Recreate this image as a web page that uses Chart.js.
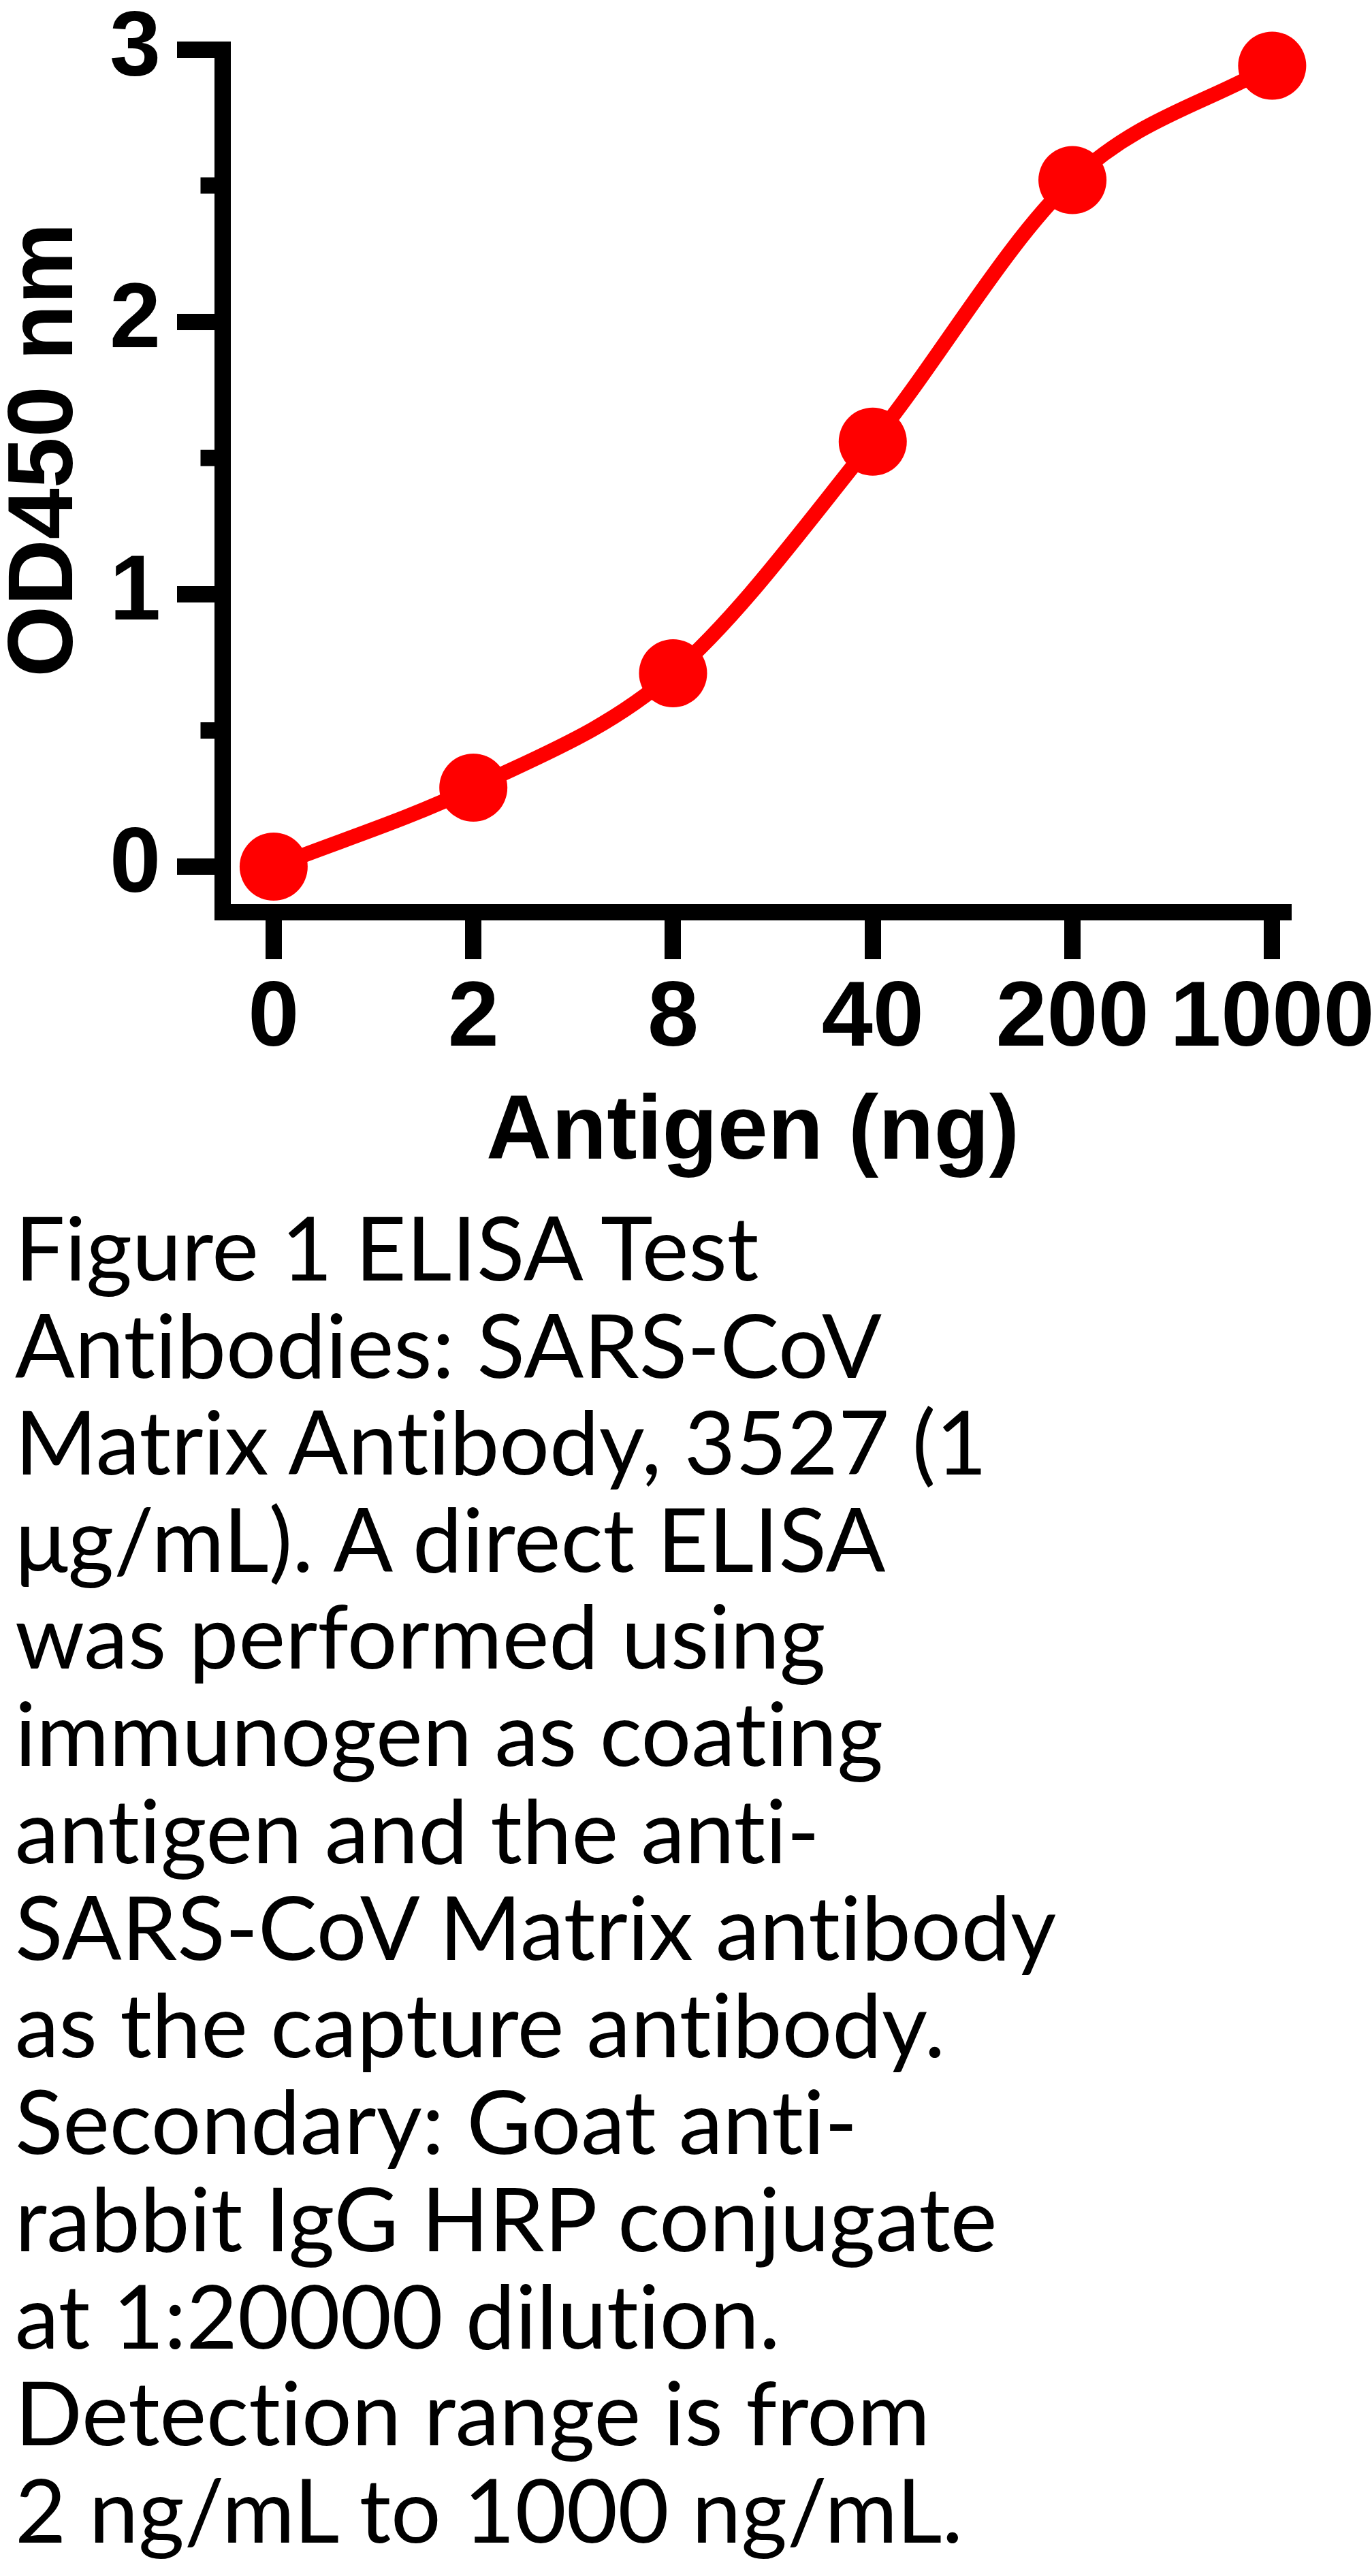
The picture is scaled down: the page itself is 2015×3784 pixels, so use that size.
<!DOCTYPE html>
<html>
<head>
<meta charset="utf-8">
<script src="https://cdn.jsdelivr.net/npm/chart.js@4.4.1/dist/chart.umd.min.js"></script>
<style>
	body { margin: 0; background: #ffffff; }
	#wrap { position: relative; width: 2015px; height: 3784px; }
	#elisa { position: absolute; left: 0; top: 0; }
	#caption {
		position: absolute;
		left: 22px;
		top: 1760px;
		font-family: "Lato", "Open Sans", sans-serif;
		font-size: 130px;
		line-height: 142.6px;
		font-variant-ligatures: none;
		color: #000000;
		white-space: pre;
	}
</style>
</head>
<body>
<div id="wrap">
	<canvas id="elisa" width="2015" height="1760"></canvas>
	<div id="caption"></div>
</div>
<script>
// antigen amounts (ng), plotted at equal spacing
const doses = ['0', '2', '8', '40', '200', '1000'];
// OD450
const od450 = [0, 0.29, 0.71, 1.56, 2.52, 2.94];
// y axis ticks
const yMajor = [0, 1, 2, 3];
const yMinor = [0.5, 1.5, 2.5];

const captionLines = [
	'Figure 1 ELISA Test',
	'Antibodies: SARS-CoV',
	'Matrix Antibody, 3527 (1',
	'\u03bcg/mL). A direct ELISA',
	'was performed using',
	'immunogen as coating',
	'antigen and the anti-',
	'SARS-CoV Matrix antibody',
	'as the capture antibody.',
	'Secondary: Goat anti-',
	'rabbit IgG HRP conjugate',
	'at 1:20000 dilution.',
	'Detection range is from',
	'2 ng/mL to 1000 ng/mL.',
];
document.getElementById('caption').textContent = captionLines.join('\n');

const boldFont = '"Liberation Sans", Arial, Helvetica, sans-serif';

// small ticks between the labelled ones
const minorTicks = {
	id: 'minorTicks',
	afterDraw(chart) {
		const ctx = chart.ctx;
		const y = chart.scales.y;
		ctx.save();
		ctx.strokeStyle = '#000000';
		ctx.lineWidth = 24;
		for (let i = 0; i < yMinor.length; i++) {
			const py = y.getPixelForValue(yMinor[i]);
			ctx.beginPath();
			ctx.moveTo(y.right - 32, py);
			ctx.lineTo(y.right, py);
			ctx.stroke();
		}
		ctx.restore();
	}
};

// y title sits a bit above the axis middle in the original
const yTitle = {
	id: 'yTitle',
	afterDraw(chart) {
		const ctx = chart.ctx;
		ctx.save();
		ctx.translate(69, 661);
		ctx.rotate(-Math.PI / 2);
		ctx.font = 'bold 135px ' + boldFont;
		ctx.fillStyle = '#000000';
		ctx.textAlign = 'center';
		ctx.textBaseline = 'middle';
		ctx.fillText('OD450 nm', 0, 0);
		ctx.restore();
	}
};

const points = od450.map((v, i) => ({ x: i, y: v }));

new Chart(document.getElementById('elisa'), {
	type: 'line',
	data: {
		datasets: [{
			data: points,
			borderColor: '#ff0000',
			backgroundColor: '#ff0000',
			borderWidth: 22,
			pointRadius: 50,
			pointBorderWidth: 0,
			pointBackgroundColor: '#ff0000',
			cubicInterpolationMode: 'monotone',
			clip: false,
		}],
	},
	options: {
		responsive: false,
		animation: false,
		devicePixelRatio: 1,
		layout: {
			padding: { top: 72.5, right: 130.5, bottom: 0, left: 0 },
		},
		plugins: {
			legend: { display: false },
			tooltip: { enabled: false },
		},
		scales: {
			x: {
				type: 'linear',
				min: -0.257,
				max: 5.055,
				afterFit: (scale) => {
					scale.height = 420.5;
					scale.paddingLeft = 0;
					scale.paddingRight = 0;
				},
				border: { display: true, color: '#000000', width: 24 },
				grid: {
					drawOnChartArea: false,
					drawTicks: true,
					color: '#000000',
					lineWidth: 24,
					tickLength: 69.5,
				},
				ticks: {
					stepSize: 1,
					includeBounds: false,
					autoSkip: false,
					maxRotation: 0,
					padding: 9,
					color: '#000000',
					font: { family: boldFont, size: 135, weight: 'bold' },
					callback: (value) => doses[value],
				},
				title: {
					display: true,
					text: 'Antigen (ng)',
					color: '#000000',
					font: { family: boldFont, size: 133, weight: 'bold', lineHeight: 1 },
					padding: { top: 0, bottom: 28.5 },
				},
			},
			y: {
				min: -0.166,
				max: 3,
				afterFit: (scale) => {
					scale.width = 326.5;
					scale.paddingTop = 0;
					scale.paddingBottom = 0;
				},
				afterBuildTicks: (scale) => {
					scale.ticks = yMajor.map((v) => ({ value: v }));
				},
				border: { display: true, color: '#000000', width: 24 },
				grid: {
					drawOnChartArea: false,
					drawTicks: true,
					color: '#000000',
					lineWidth: 24,
					tickLength: 66.5,
				},
				ticks: {
					padding: 24,
					color: '#000000',
					font: { family: boldFont, size: 135, weight: 'bold' },
				},
			},
		},
	},
	plugins: [minorTicks, yTitle],
});
</script>
</body>
</html>
